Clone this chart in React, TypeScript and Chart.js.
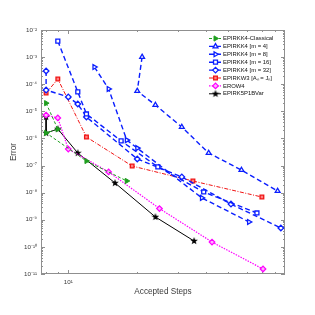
import React, { useEffect, useRef } from 'react';
import { Chart, registerables } from 'chart.js';
import { drawPoint } from 'chart.js/helpers';

Chart.register(...registerables);

// ---- Data (Accepted Steps vs Error) ----
const classicalSteps = [8, 9, 8, 12, 18];
const classicalError = [2.0e-5, 2.2e-6, 1.6e-6, 1.47e-7, 2.7e-8];

const m4Steps = [21, 20, 24, 31.3, 41, 57, 82];
const m4Error = [1.01e-3, 5.6e-5, 1.71e-5, 2.64e-6, 2.9e-7, 6.85e-8, 1.15e-8];

const m8Steps = [13, 15, 18, 20, 38.3, 61.5];
const m8Error = [4.3e-4, 6.7e-5, 8.7e-7, 4.4e-7, 6.4e-9, 8.3e-10];

const m16Steps = [9, 11, 12, 17, 24.6, 39, 66.6];
const m16Error = [3.9e-3, 5.2e-5, 8.0e-6, 8.1e-7, 8.9e-8, 1.06e-8, 1.78e-9];

const m32Steps = [8, 8, 10, 11, 12, 20, 31.3, 51.3, 84.7];
const m32Error = [3.08e-4, 6.1e-5, 3.4e-5, 1.86e-5, 6.2e-6, 1.75e-7, 3.8e-8, 3.8e-9, 4.97e-10];

const epirkw3Steps = [8, 9, 12, 19, 35, 70];
const epirkw3Error = [4.7e-5, 1.56e-4, 1.13e-6, 9.6e-8, 2.69e-8, 6.9e-9];

const erow4Steps = [8, 9, 10, 15, 25, 42.4, 70.8];
const erow4Error = [7.3e-6, 5.7e-6, 4.07e-7, 5.8e-8, 2.6e-9, 1.51e-10, 1.53e-11];

const bvarSteps = [8, 8, 9, 11, 16, 24, 35.4];
const bvarError = [6.2e-6, 1.58e-6, 2.23e-6, 2.9e-7, 2.27e-8, 1.27e-9, 1.65e-10];

const seriesLabels = [
  'EPIRKK4-Classical',
  'EPIRKK4 [m = 4]',
  'EPIRKK4 [m = 8]',
  'EPIRKK4 [m = 16]',
  'EPIRKK4 [m = 32]',
  'EPIRKW3 [Aₙ = Jₙ]',
  'EROW4',
  'EPIRK5P1BVar',
];

const xTicks = [10];
const xTickLabels = ['10¹'];
const xMinorTicks = [8, 9, 20, 30, 40, 50, 60, 70, 80];
const xMin = 7.6;
const xMax = 88.3;

const yTicks = [1e-11, 1e-10, 1e-9, 1e-8, 1e-7, 1e-6, 1e-5, 1e-4, 1e-3, 1e-2];
const yTickLabels = ['10⁻¹¹', '10⁻¹⁰', '10⁻⁹', '10⁻⁸', '10⁻⁷', '10⁻⁶', '10⁻⁵', '10⁻⁴', '10⁻³', '10⁻²'];
const yMin = 1e-11;
const yMax = 1e-2;

// ---- Styles ----
const FONT = '"Liberation Sans", Arial, Helvetica, sans-serif';
const AXIS_COLOR = '#8f8f8f';
const TEXT_COLOR = '#3a3a3a';
const GREEN = '#1f9e1f';
const BLUE = '#0a1eff';
const RED = '#f01414';
const MAGENTA = '#ff00ff';
const BLACK = '#000000';

function makeStar(size: number, color: string): HTMLCanvasElement {
  const c = document.createElement('canvas');
  c.width = size;
  c.height = size;
  const g = c.getContext('2d')!;
  const cx = size / 2;
  const cy = size / 2;
  const R = size / 2;
  const r = R * 0.42;
  g.beginPath();
  for (let i = 0; i < 10; i++) {
    const rad = i % 2 === 0 ? R : r;
    const a = -Math.PI / 2 + (i * Math.PI) / 5;
    const px = cx + rad * Math.cos(a);
    const py = cy + rad * Math.sin(a);
    if (i === 0) g.moveTo(px, py);
    else g.lineTo(px, py);
  }
  g.closePath();
  g.fillStyle = color;
  g.fill();
  return c;
}

function pts(xs: number[], ys: number[]) {
  return xs.map((x, i) => ({ x, y: ys[i] }));
}

const framePlugin = {
  id: 'matlabFrame',
  beforeDatasetsDraw(chart: any) {
    const { ctx, chartArea: a, scales } = chart;
    const xs = scales.x;
    const ys = scales.y;
    ctx.save();
    ctx.strokeStyle = AXIS_COLOR;
    ctx.lineWidth = 1;
    const vt = (v: number, len: number) => {
      const px = Math.round(xs.getPixelForValue(v)) + 0.5;
      ctx.beginPath();
      ctx.moveTo(px, a.bottom);
      ctx.lineTo(px, a.bottom - len);
      ctx.moveTo(px, a.top);
      ctx.lineTo(px, a.top + len);
      ctx.stroke();
    };
    const ht = (v: number, len: number) => {
      const py = Math.round(ys.getPixelForValue(v)) + 0.5;
      ctx.beginPath();
      ctx.moveTo(a.left, py);
      ctx.lineTo(a.left + len, py);
      ctx.moveTo(a.right, py);
      ctx.lineTo(a.right - len, py);
      ctx.stroke();
    };
    xTicks.forEach((v) => vt(v, 4));
    xMinorTicks.forEach((v) => vt(v, 2));
    yTicks.forEach((v) => ht(v, 4));
    for (let e = -11; e < -2; e++) {
      for (let m = 2; m <= 9; m++) ht(m * Math.pow(10, e), 2);
    }
    ctx.strokeRect(Math.round(a.left) + 0.5, Math.round(a.top) + 0.5, Math.round(a.width) - 1, Math.round(a.height) - 1);
    ctx.restore();
  },
};

const legendPlugin = {
  id: 'matlabLegend',
  afterDraw(chart: any) {
    const { ctx, chartArea: a } = chart;
    const x0 = a.right - 76;
    const top = a.top + 8.5;
    const gap = 7.9;
    chart.data.datasets.forEach((ds: any, i: number) => {
      const y = top + i * gap;
      ctx.save();
      ctx.strokeStyle = ds.borderColor;
      ctx.lineWidth = ds.borderWidth;
      ctx.setLineDash(ds.borderDash || []);
      ctx.beginPath();
      ctx.moveTo(x0, y);
      ctx.lineTo(x0 + 12, y);
      ctx.stroke();
      ctx.setLineDash([]);
      ctx.fillStyle = ds.pointBackgroundColor;
      ctx.strokeStyle = ds.pointBorderColor;
      ctx.lineWidth = ds.pointBorderWidth;
      drawPoint(
        ctx,
        {
          pointStyle: ds.pointStyle,
          rotation: ds.pointRotation || 0,
          radius: ds.pointRadius,
          borderWidth: ds.pointBorderWidth,
        } as any,
        x0 + 6.5,
        y
      );
      ctx.fillStyle = '#111';
      ctx.font = `5.9px ${FONT}`;
      ctx.textBaseline = 'middle';
      ctx.textAlign = 'left';
      ctx.fillText(ds.label, x0 + 14, y);
      ctx.restore();
    });
  },
};

export default function App() {
  const ref = useRef<HTMLCanvasElement>(null);

  useEffect(() => {
    if (!ref.current) return;
    const star = makeStar(8, BLACK);
    const blueDs = (label: string, xs: number[], ys: number[], style: any, rot = 0) => ({
      label,
      data: pts(xs, ys),
      borderColor: BLUE,
      borderWidth: 1.4,
      borderDash: [5, 3],
      pointStyle: style,
      pointRotation: rot,
      pointRadius: 2.8,
      pointBackgroundColor: '#ffffff',
      pointBorderColor: BLUE,
      pointBorderWidth: 1.3,
    });
    const chart = new Chart(ref.current, {
      type: 'line',
      data: {
        datasets: [
          {
            label: seriesLabels[0],
            data: pts(classicalSteps, classicalError),
            borderColor: GREEN,
            borderWidth: 1,
            borderDash: [3, 2],
            pointStyle: 'triangle',
            pointRotation: 90,
            pointRadius: 3,
            pointBackgroundColor: GREEN,
            pointBorderColor: GREEN,
            pointBorderWidth: 1,
          },
          blueDs(seriesLabels[1], m4Steps, m4Error, 'triangle'),
          blueDs(seriesLabels[2], m8Steps, m8Error, 'triangle', 90),
          blueDs(seriesLabels[3], m16Steps, m16Error, 'rect'),
          blueDs(seriesLabels[4], m32Steps, m32Error, 'rectRot'),
          {
            label: seriesLabels[5],
            data: pts(epirkw3Steps, epirkw3Error),
            borderColor: RED,
            borderWidth: 1,
            borderDash: [4, 1.5, 1, 1.5],
            pointStyle: 'rect',
            pointRadius: 2.6,
            pointBackgroundColor: '#ff8080',
            pointBorderColor: RED,
            pointBorderWidth: 1.3,
          },
          {
            label: seriesLabels[6],
            data: pts(erow4Steps, erow4Error),
            borderColor: MAGENTA,
            borderWidth: 1.2,
            borderDash: [1.5, 1.2],
            pointStyle: 'rectRot',
            pointRadius: 2.8,
            pointBackgroundColor: '#ffb0ff',
            pointBorderColor: MAGENTA,
            pointBorderWidth: 1.2,
          },
          {
            label: seriesLabels[7],
            data: pts(bvarSteps, bvarError),
            borderColor: BLACK,
            borderWidth: 1,
            borderDash: [],
            pointStyle: star,
            pointRadius: 3,
            pointBackgroundColor: BLACK,
            pointBorderColor: BLACK,
            pointBorderWidth: 1,
          },
        ] as any,
      },
      options: {
        animation: false,
        responsive: false,
        maintainAspectRatio: false,
        layout: { padding: { left: 0, right: 30, top: 30, bottom: 0 } },
        plugins: { legend: { display: false }, tooltip: { enabled: false } },
        elements: { line: { tension: 0 } },
        scales: {
          x: {
            type: 'logarithmic',
            min: xMin,
            max: xMax,
            bounds: 'data',
            grid: { display: false, drawTicks: false },
            border: { display: false },
            afterBuildTicks: (s: any) => {
              s.ticks = xTicks.map((v) => ({ value: v }));
            },
            afterFit: (s: any) => {
              s.height = 41;
            },
            ticks: {
              autoSkip: false,
              maxRotation: 0,
              padding: 5,
              color: TEXT_COLOR,
              font: { family: FONT, size: 6.2 },
              callback: (_v: any, i: number) => xTickLabels[i],
            },
            title: {
              display: true,
              text: 'Accepted Steps',
              color: TEXT_COLOR,
              font: { family: FONT, size: 8.2 },
              padding: { top: 0, bottom: 18 },
            },
          },
          y: {
            type: 'logarithmic',
            min: yMin,
            max: yMax,
            bounds: 'data',
            grid: { display: false, drawTicks: false },
            border: { display: false },
            afterBuildTicks: (s: any) => {
              s.ticks = yTicks.map((v) => ({ value: v }));
            },
            afterFit: (s: any) => {
              s.width = 41;
            },
            ticks: {
              autoSkip: false,
              padding: 4,
              color: TEXT_COLOR,
              font: { family: FONT, size: 6.2 },
              callback: (_v: any, i: number) => yTickLabels[i],
            },
            title: {
              display: true,
              text: 'Error',
              color: TEXT_COLOR,
              font: { family: FONT, size: 8.2 },
              padding: { top: 9, bottom: 0 },
            },
          },
        },
      } as any,
      plugins: [framePlugin, legendPlugin],
    });
    return () => chart.destroy();
  }, []);

  return (
    <div style={{ position: 'fixed', left: 0, top: 0, width: 315, height: 315, background: '#fff' }}>
      <canvas ref={ref} width={315} height={315} style={{ display: 'block', width: 315, height: 315 }} />
    </div>
  );
}
